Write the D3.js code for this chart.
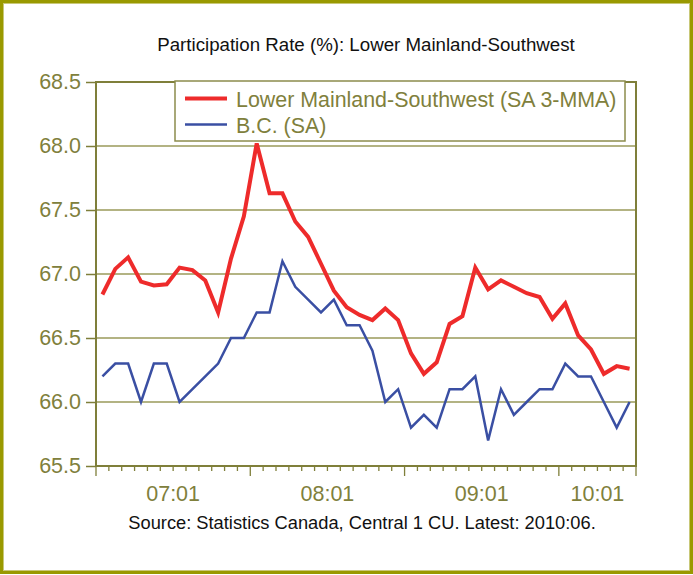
<!DOCTYPE html>
<html><head><meta charset="utf-8">
<script src="https://cdn.jsdelivr.net/npm/d3@7"></script>
<style>
html,body{margin:0;padding:0;background:#fff;}
svg{display:block;font-family:"Liberation Sans",Arial,sans-serif;}
</style></head>
<body><svg id="c" width="693" height="575"></svg>
<script>
const title = "Participation Rate (%): Lower Mainland-Southwest";
const source = "Source: Statistics Canada, Central 1 CU. Latest: 2010:06.";
const startYear = 2007, startMonth = 1; // first observation 2007:01, last 2010:06
const seriesNames = ["Lower Mainland-Southwest (SA 3-MMA)", "B.C. (SA)"];
const lowerMainland = [66.84,67.04,67.13,66.94,66.91,66.92,67.05,67.03,66.95,66.70,
  67.12,67.45,68.02,67.63,67.63,67.41,67.29,67.08,66.87,66.74,
  66.68,66.64,66.73,66.64,66.38,66.22,66.31,66.61,66.67,67.05,
  66.88,66.95,66.90,66.85,66.82,66.65,66.77,66.52,66.41,66.22,
  66.28,66.26];
const bc = [66.2,66.3,66.3,66.0,66.3,66.3,66.0,66.1,66.2,66.3,
  66.5,66.5,66.7,66.7,67.1,66.9,66.8,66.7,66.8,66.6,
  66.6,66.4,66.0,66.1,65.8,65.9,65.8,66.1,66.1,66.2,
  65.7,66.1,65.9,66.0,66.1,66.1,66.3,66.2,66.2,66.0,
  65.8,66.0];
const yTicks = [65.5,66.0,66.5,67.0,67.5,68.0,68.5];
const xLabels = ["07:01","08:01","09:01","10:01"];

const n = lowerMainland.length;
const cats = d3.range(n).map(i => {
  const m = startMonth - 1 + i;
  const yy = startYear + Math.floor(m / 12);
  const mm = (m % 12) + 1;
  return String(yy % 100).padStart(2, "0") + ":" + String(mm).padStart(2, "0");
});

const svg = d3.select("#c");
const L = 96, R = 636, T = 82, B = 466;
const olive = "#7f7f3a";
const txtOlive = "#80803c";

// outer frame
svg.append("rect").attr("x", 1.5).attr("y", 1.5).attr("width", 690).attr("height", 571)
  .attr("fill", "#fff").attr("stroke", "#999900").attr("stroke-width", 3);
svg.append("rect").attr("x", 3.5).attr("y", 3.5).attr("width", 686).attr("height", 567)
  .attr("fill", "none").attr("stroke", "#c8c878").attr("stroke-width", 1);

const x = d3.scaleBand().domain(d3.range(n)).range([L, R]).paddingInner(0).paddingOuter(0);
const xc = i => x(i) + x.bandwidth() / 2;
const y = d3.scaleLinear().domain([65.5, 68.5]).range([B, T]);

// gridlines
svg.append("g").selectAll("line").data(yTicks.filter(v => v > 65.5 && v < 68.5)).join("line")
  .attr("x1", L).attr("x2", R).attr("y1", d => y(d)).attr("y2", d => y(d))
  .attr("stroke", "#9a9a5a").attr("stroke-width", 1.3);

// y axis
const yAxis = d3.axisLeft(y).tickValues(yTicks).tickFormat(d3.format(".1f")).tickSize(10).tickPadding(5);
const gy = svg.append("g").attr("transform", `translate(${L},0)`).call(yAxis);
gy.select(".domain").remove();
gy.selectAll(".tick line").attr("stroke", olive).attr("stroke-width", 1.5);
gy.selectAll(".tick text").attr("fill", txtOlive).attr("font-size", "21.5px")
  .attr("font-family", "Liberation Sans, Arial, sans-serif");

// x axis ticks: boundaries between categories
const bounds = d3.range(n + 1);
const bx = i => i < n ? x(i) : x(n - 1) + x.bandwidth();
svg.append("g").selectAll("line").data(bounds).join("line")
  .attr("x1", d => bx(d)).attr("x2", d => bx(d))
  .attr("y1", B).attr("y2", d => (d % 12 === 0 || d === n) ? B + 10 : B + 5)
  .attr("stroke", olive).attr("stroke-width", 1.3);

// x labels centered on each year group
const groups = xLabels.map(lab => {
  const idx = cats.indexOf(lab);
  const end = Math.min(idx + 12, n);
  return {lab, cx: (bx(idx) + bx(end)) / 2};
});
svg.append("g").selectAll("text").data(groups).join("text")
  .attr("y", 501).attr("text-anchor", "middle")
  .attr("fill", txtOlive).attr("font-size", "21.5px")
  .text(d => d.lab)
  .attr("x", function(d) {
    const w = this.getComputedTextLength();
    return Math.min(d.cx, R - w / 2);
  });

// plot border
svg.append("rect").attr("x", L).attr("y", T).attr("width", R - L).attr("height", B - T)
  .attr("fill", "none").attr("stroke", olive).attr("stroke-width", 2);

// lines
const line = d3.line().x((d, i) => xc(i)).y(d => y(d));
svg.append("path").datum(bc).attr("d", line).attr("fill", "none")
  .attr("stroke", "#3a4fa3").attr("stroke-width", 2.5).attr("stroke-linejoin", "miter");
svg.append("path").datum(lowerMainland).attr("d", line).attr("fill", "none")
  .attr("stroke", "#ee2b2b").attr("stroke-width", 4).attr("stroke-linejoin", "miter");

// legend
const lg = svg.append("g");
lg.append("rect").attr("x", 175).attr("y", 81).attr("width", 450).attr("height", 60)
  .attr("fill", "#fff").attr("stroke", "#8c8c4c").attr("stroke-width", 1.5);
const legItems = [{name: seriesNames[0], color: "#ee2b2b", w: 4, y: 98.5},
                  {name: seriesNames[1], color: "#3a4fa3", w: 2.5, y: 124.5}];
legItems.forEach(it => {
  lg.append("line").attr("x1", 185).attr("x2", 227).attr("y1", it.y).attr("y2", it.y)
    .attr("stroke", it.color).attr("stroke-width", it.w);
  lg.append("text").attr("x", 236).attr("y", it.y + 8.5).attr("fill", txtOlive)
    .attr("font-size", "21.4px").text(it.name);
});

// title and source
svg.append("text").attr("x", 366).attr("y", 51).attr("text-anchor", "middle")
  .attr("font-size", "18.7px").attr("fill", "#111").text(title);
svg.append("text").attr("x", 362).attr("y", 529).attr("text-anchor", "middle")
  .attr("font-size", "18.3px").attr("fill", "#111").text(source);
</script></body></html>
